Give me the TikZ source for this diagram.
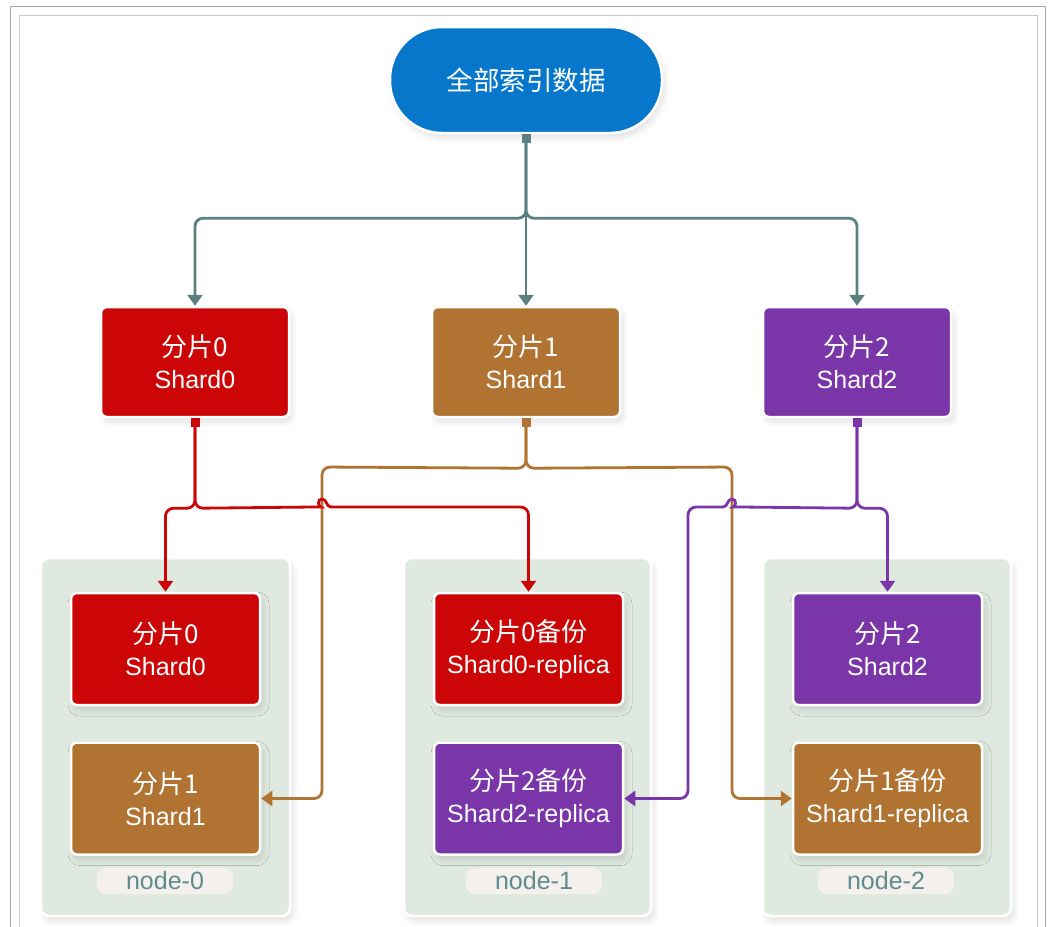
\documentclass[tikz,border=0pt]{standalone}
\usepackage{fontspec}
\setmainfont{Liberation Sans}
\newfontfamily\cjk{Noto Sans CJK SC}
\usetikzlibrary{arrows.meta,shadows.blur}
\definecolor{pillblue}{RGB}{7,119,204}
\definecolor{shred}{RGB}{204,6,6}
\definecolor{shbrown}{RGB}{176,115,50}
\definecolor{shpurple}{RGB}{122,54,168}
\definecolor{lnGray}{RGB}{92,128,128}
\definecolor{contfill}{RGB}{223,233,223}
\definecolor{lblfill}{RGB}{244,240,238}
\definecolor{lbltext}{RGB}{95,140,140}
\definecolor{frameout}{RGB}{170,170,170}
\definecolor{framein}{RGB}{200,200,200}
\tikzset{
  shadowed/.style={blur shadow={shadow xshift=3pt,shadow yshift=-5pt,shadow opacity=12,shadow blur radius=6pt,shadow blur steps=10}},
  shardbox/.style={draw=white,line width=2.5pt,rounded corners=6pt,minimum width=188pt,minimum height=110pt,
     text=white,align=center,font=\fontsize{25}{32}\selectfont,shadowed},
  container/.style={draw=white,line width=2.5pt,fill=contfill,rounded corners=8pt,shadowed},
  nodelabel/.style={fill=lblfill,rounded corners=9pt,minimum width=136pt,minimum height=26pt,inner sep=0pt,
     text=lbltext,font=\fontsize{25}{26}\selectfont},
  conn/.style={line width=2.8pt,rounded corners=8pt,
     {Square[length=9pt,width=9pt]}-{Triangle[width=15pt,length=11pt]}},
  zh/.style={font=\cjk\fontsize{26}{32}\selectfont},
}
\newcommand{\zhtxt}[1]{{\cjk\fontsize{26}{32}\selectfont #1}}
\begin{document}
\begin{tikzpicture}[x=1pt,y=-1pt]
\useasboundingbox (0,0) rectangle (1048,926);
% frame
\draw[frameout,line width=1pt] (10,930) |- (1045,6) -- (1045,930);
\draw[framein,line width=1pt] (19,930) |- (1037,15) -- (1037,930);
% containers
\node[container,minimum width=249pt,minimum height=358pt] (c0) at (165.5,737) {};
\node[container,minimum width=247pt,minimum height=358pt] (c1) at (527.5,737) {};
\node[container,minimum width=248pt,minimum height=358pt] (c2) at (887,737) {};
% top
\node[draw=white,line width=2.5pt,fill=pillblue,rounded corners=52pt,minimum width=272pt,minimum height=106pt,
      text=white,font=\cjk\fontsize{26.5}{30}\selectfont,shadowed] (top) at (526,80) {全部索引数据};
% shards
\node[shardbox,fill=shred] (s0) at (195,362) {\zhtxt{分片0}\\Shard0};
\node[shardbox,fill=shbrown] (s1) at (526,362) {\zhtxt{分片1}\\Shard1};
\node[shardbox,fill=shpurple] (s2) at (857,362) {\zhtxt{分片2}\\Shard2};
% inner boxes
\node[shardbox,fill=shred,minimum width=189pt,minimum height=112pt] (a0) at (165.5,649) {\zhtxt{分片0}\\Shard0};
\node[shardbox,fill=shbrown,minimum width=189pt,minimum height=112pt] (b0) at (165.5,798.5) {\zhtxt{分片1}\\Shard1};
\node[shardbox,fill=shred,minimum width=189pt,minimum height=112pt] (a1) at (528.5,649) {\zhtxt{分片0备份}\\Shard0-replica};
\node[shardbox,fill=shpurple,minimum width=189pt,minimum height=112pt] (b1) at (528.5,798.5) {\zhtxt{分片2备份}\\Shard2-replica};
\node[shardbox,fill=shpurple,minimum width=189pt,minimum height=112pt] (a2) at (887.5,649) {\zhtxt{分片2}\\Shard2};
\node[shardbox,fill=shbrown,minimum width=189pt,minimum height=112pt] (b2) at (887.5,798.5) {\zhtxt{分片1备份}\\Shard1-replica};
% labels
\node[nodelabel] (l0) at (165,881) {node-0};
\node[nodelabel] (l1) at (534,881) {node-1};
\node[nodelabel] (l2) at (886,881) {node-2};
% gray connectors
\draw[conn,lnGray] (top.south) -- ++(0,84) -| (s0.north);
\draw[conn,lnGray] (top.south) -- (s1.north);
\draw[conn,lnGray] (top.south) -- ++(0,84) -| (s2.north);
% brown connectors
\draw[conn,shbrown] (s1.south) -- ++(0,50) -- (322,467) |- (b0.east);
\draw[conn,shbrown] (s1.south) -- ++(0,50) -- (732,467) |- (b2.west);
% red connectors
\draw[conn,shred] (s0.south) -- ++(0,90) -| (a0.north);
\draw[conn,shred] (s0.south) -- ++(0,90) -- (313,507) [sharp corners]
   .. controls (318,507) and (317,499) .. (322,499)
   .. controls (327,499) and (326,507) .. (331,507) [rounded corners=8pt] -| (a1.north);
% purple connectors
\draw[conn,shpurple] (s2.south) -- ++(0,90) -| (a2.north);
\draw[conn,shpurple] (s2.south) -- ++(0,90) -- (741,507) [sharp corners]
   .. controls (736,507) and (737,499) .. (732,499)
   .. controls (727,499) and (728,507) .. (723,507) [rounded corners=8pt] -- (688,507) |- (b1.east);
\end{tikzpicture}
\end{document}
